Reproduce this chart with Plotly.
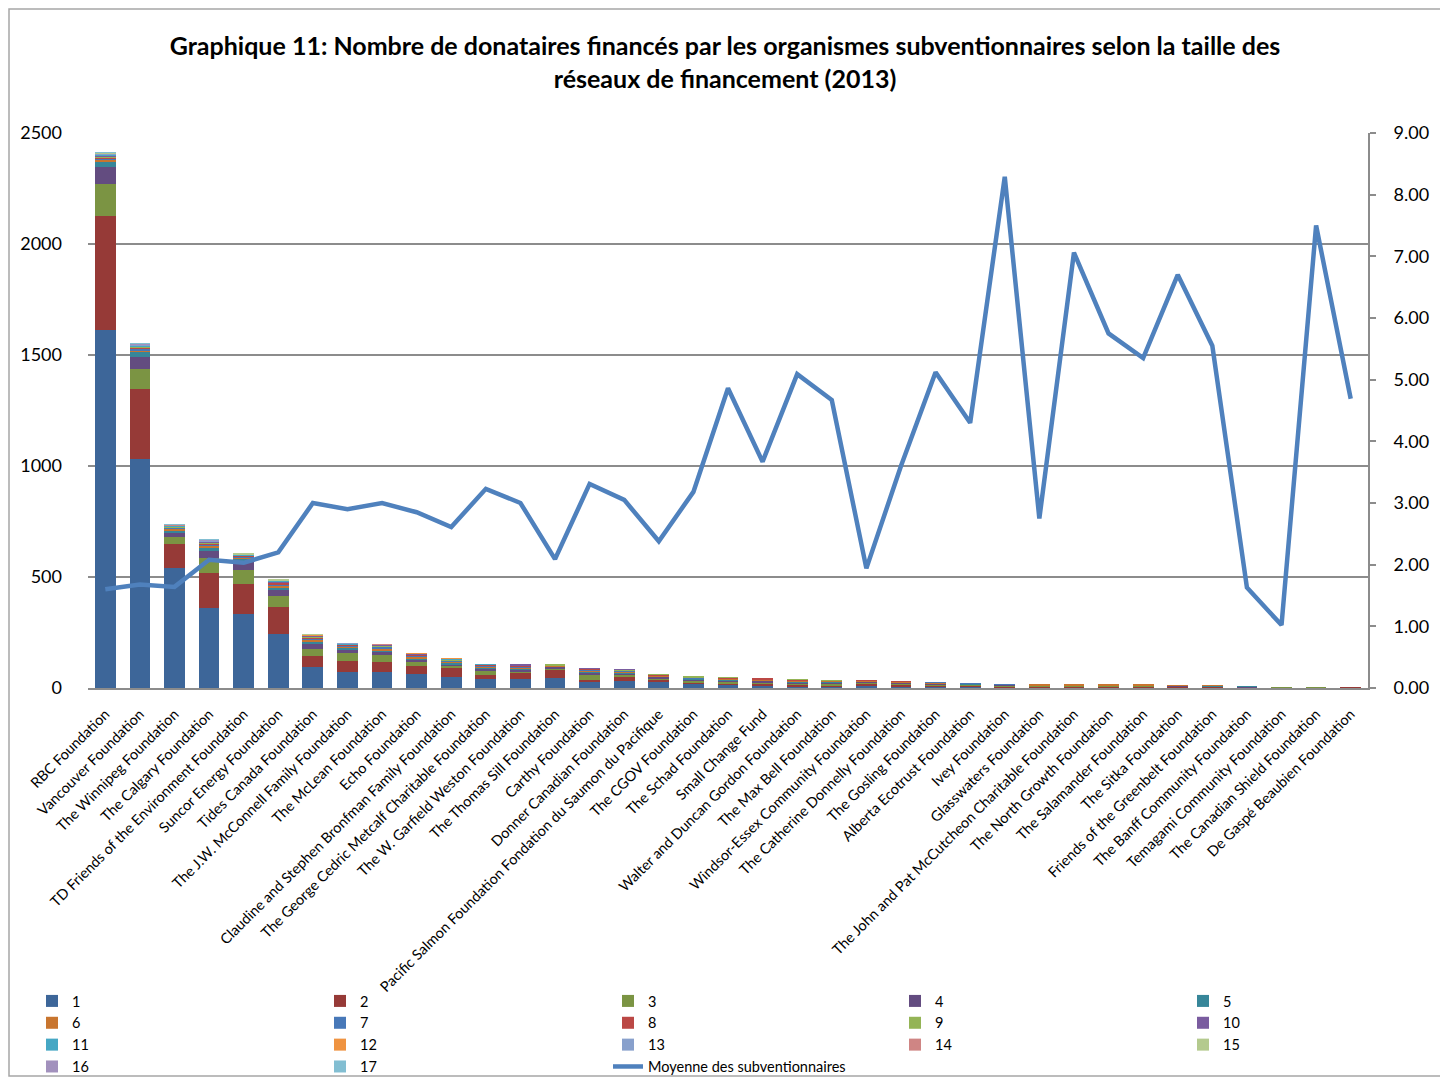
import plotly.graph_objects as go

categories = [
    "RBC Foundation", "Vancouver Foundation", "The Winnipeg Foundation", "The Calgary Foundation",
    "TD Friends of the Environment Foundation", "Suncor Energy Foundation", "Tides Canada Foundation",
    "The J.W. McConnell Family Foundation", "The McLean Foundation", "Echo Foundation",
    "Claudine and Stephen Bronfman Family Foundation", "The George Cedric Metcalf Charitable Foundation",
    "The W. Garfield Weston Foundation", "The Thomas Sill Foundation", "Carthy Foundation",
    "Donner Canadian Foundation", "Pacific Salmon Foundation Fondation du Saumon du Pacifique",
    "The CGOV Foundation", "The Schad Foundation", "Small Change Fund",
    "Walter and Duncan Gordon Foundation", "The Max Bell Foundation", "Windsor-Essex Community Foundation",
    "The Catherine Donnelly Foundation", "The Gosling Foundation", "Alberta Ecotrust Foundation",
    "Ivey Foundation", "Glasswaters Foundation", "The John and Pat McCutcheon Charitable Foundation",
    "The North Growth Foundation", "The Salamander Foundation", "The Sitka Foundation",
    "Friends of the Greenbelt Foundation", "The Banff Community Foundation",
    "Temagami Community Foundation", "The Canadian Shield Foundation", "De Gaspé Beaubien Foundation",
]

s1 = [1614, 1032, 540, 359, 335, 244, 93, 74, 71, 63, 48, 41, 42, 44, 26, 30, 29, 18, 12, 10, 8, 6, 10, 6, 6, 5, 4, 4, 3, 4, 3, 3, 3, 2, 1, 1, 1]
s2 = [510, 316, 108, 161, 133, 120, 51, 46, 45, 36, 42, 19, 24, 39, 12, 23, 10, 8, 10, 9, 7, 6, 9, 8, 5, 5, 4, 3, 3, 3, 3, 3, 2, 1, 1, 1, 1]
s3 = [148, 91, 33, 66, 65, 49, 32, 36, 34, 20, 10, 18, 9, 7, 22, 7, 6, 7, 8, 8, 6, 6, 5, 5, 4, 4, 3, 3, 3, 3, 3, 2, 2, 1, 1, 1, 0]
s4 = [74, 52, 19, 32, 36, 30, 21, 18, 11, 8, 8, 8, 8, 5, 10, 6, 5, 5, 5, 5, 6, 6, 4, 4, 3, 3, 3, 2, 2, 2, 2, 2, 1, 1, 0, 0, 0]
s5 = [24, 21, 11, 17, 13, 11, 12, 8, 10, 6, 6, 6, 6, 4, 6, 5, 3, 4, 4, 3, 4, 4, 3, 3, 3, 2, 2, 1, 2, 1, 2, 1, 1, 1, 0, 0, 0]
s6 = [10, 10, 6, 8, 6, 8, 8, 5, 8, 7, 5, 5, 5, 2, 5, 4, 3, 3, 3, 3, 3, 4, 2, 2, 2, 1, 1, 1, 1, 1, 1, 1, 1, 0, 0, 0, 0]
s7 = [6, 6, 4, 5, 4, 6, 6, 4, 6, 5, 4, 4, 4, 1, 4, 3, 2, 2, 2, 2, 2, 2, 1, 1, 1, 1, 1, 0, 0, 0, 0, 0, 0, 0, 0, 0, 0]
s8 = [5, 5, 3, 4, 3, 5, 5, 3, 4, 4, 3, 3, 3, 1, 2, 3, 1, 2, 2, 1, 1, 1, 1, 1, 0, 0, 0, 0, 0, 0, 0, 0, 0, 0, 0, 0, 0]
s9 = [4, 4, 3, 3, 2, 4, 4, 2, 3, 3, 2, 2, 2, 1, 2, 2, 1, 1, 1, 0, 1, 1, 0, 0, 0, 0, 0, 0, 0, 0, 0, 0, 0, 0, 0, 0, 0]
s10 = [4, 3, 2, 3, 2, 3, 3, 2, 2, 2, 2, 1, 1, 0, 1, 1, 0, 0, 0, 0, 0, 0, 0, 0, 0, 0, 0, 0, 0, 0, 0, 0, 0, 0, 0, 0, 0]
s11 = [3, 3, 2, 2, 1, 2, 3, 1, 1, 1, 1, 1, 0, 0, 0, 0, 0, 0, 0, 0, 0, 0, 0, 0, 0, 0, 0, 0, 0, 0, 0, 0, 0, 0, 0, 0, 0]
s12 = [3, 2, 2, 2, 1, 2, 2, 1, 1, 1, 1, 0, 0, 0, 0, 0, 0, 0, 0, 0, 0, 0, 0, 0, 0, 0, 0, 0, 0, 0, 0, 0, 0, 0, 0, 0, 0]
s13 = [2, 2, 1, 2, 1, 1, 1, 1, 1, 0, 0, 0, 0, 0, 0, 0, 0, 0, 0, 0, 0, 0, 0, 0, 0, 0, 0, 0, 0, 0, 0, 0, 0, 0, 0, 0, 0]
s14 = [2, 1, 1, 1, 1, 1, 1, 0, 1, 0, 0, 0, 0, 0, 0, 0, 0, 0, 0, 0, 0, 0, 0, 0, 0, 0, 0, 0, 0, 0, 0, 0, 0, 0, 0, 0, 0]
s15 = [2, 1, 1, 1, 1, 1, 1, 0, 0, 0, 0, 0, 0, 0, 0, 0, 0, 0, 0, 0, 0, 0, 0, 0, 0, 0, 0, 0, 0, 0, 0, 0, 0, 0, 0, 0, 0]
s16 = [1, 1, 1, 1, 0, 0, 0, 0, 0, 0, 0, 0, 0, 0, 0, 0, 0, 0, 0, 0, 0, 0, 0, 0, 0, 0, 0, 0, 0, 0, 0, 0, 0, 0, 0, 0, 0]
s17 = [1, 1, 1, 1, 0, 0, 0, 0, 0, 0, 0, 0, 0, 0, 0, 0, 0, 0, 0, 0, 0, 0, 0, 0, 0, 0, 0, 0, 0, 0, 0, 0, 0, 0, 0, 0, 0]

moyenne = [1.60, 1.68, 1.64, 2.08, 2.03, 2.20, 3.00, 2.90, 3.00, 2.85, 2.61, 3.23, 3.00, 2.09, 3.31, 3.05,
           2.38, 3.18, 4.86, 3.67, 5.09, 4.67, 1.94, 3.60, 5.12, 4.30, 8.29, 2.75, 7.06, 5.75, 5.35, 6.70,
           5.55, 1.63, 1.02, 7.50, 4.69]

series = [s1, s2, s3, s4, s5, s6, s7, s8, s9, s10, s11, s12, s13, s14, s15, s16, s17]
series_names = [str(i) for i in range(1, 18)]
line_name = "Moyenne des subventionnaires"

colors = ["#3D6699", "#963A37", "#7B9443", "#634C80", "#378699", "#C8752F", "#4778B8", "#BB4845",
          "#94B456", "#7A5C9F", "#45A7C4", "#EF9341", "#88A0CC", "#CF8584", "#B4CA8E", "#A291BD",
          "#82BED2"]
line_color = "#4F81BD"

FONT = "Lato"
# page offset of the plot div (default body margin)
O = 8
W, H = 1448 - O, 1079 - O
PLOT_L, PLOT_R, PLOT_T, PLOT_B = 88, 1368, 133, 688   # page pixels
L, R, T, B = PLOT_L - O, 1448 - PLOT_R, PLOT_T - O, 1079 - PLOT_B
PW, PH = PLOT_R - PLOT_L, PLOT_B - PLOT_T


def px_x(p):
    return (p - PLOT_L) / PW


def px_y(p):
    return (PLOT_B - p) / PH


legend_ids = ["legend", "legend2", "legend3", "legend4", "legend5"]

fig = go.Figure()
for i, (vals, name) in enumerate(zip(series, series_names)):
    fig.add_trace(go.Bar(
        x=categories, y=vals, name=name,
        marker=dict(color=colors[i], line=dict(width=0)),
        legend=legend_ids[i % 5],
    ))

fig.add_trace(go.Scatter(
    x=categories, y=moyenne, name=line_name, mode="lines",
    line=dict(color=line_color, width=4.5),
    yaxis="y2", legend="legend3",
))

text_x = [72, 360, 648, 935, 1223]
legend_layout = {}
for k, lid in enumerate(legend_ids):
    legend_layout[lid] = dict(
        x=px_x(text_x[k] - 40), xanchor="left",
        y=px_y(985), yanchor="top",
        orientation="v", bgcolor="rgba(0,0,0,0)",
        font=dict(family=FONT, size=14.5, color="#000000"),
        tracegroupgap=0, traceorder="normal",
    )

fig.update_layout(
    width=W, height=H,
    margin=dict(l=L, r=R, t=T, b=B, autoexpand=False),
    paper_bgcolor="white", plot_bgcolor="white",
    barmode="stack", bargap=0.4,
    font=dict(family=FONT, color="#000000"),
    title=dict(
        text="<b>Graphique 11: Nombre de donataires financés par les organismes subventionnaires selon la taille des<br>réseaux de financement (2013)</b>",
        x=px_x(725), xanchor="center", xref="paper",
        y=1 - (55 - O) / H, yanchor="middle", yref="container",
        font=dict(family=FONT, size=25, color="#000000"),
    ),
    xaxis=dict(
        type="category", range=[-0.5, len(categories) - 0.5],
        tickangle=-45, tickfont=dict(family=FONT, size=14.5, color="#000000"),
        showgrid=False, showline=True, linecolor="#8C8C8C", linewidth=2,
        ticks="", automargin=False, ticklabelstandoff=10,
    ),
    yaxis=dict(
        range=[0, 2500], dtick=500, tick0=0,
        showgrid=True, gridcolor="#8C8C8C", gridwidth=1.6,
        showline=False, zeroline=False, ticks="",
        tickfont=dict(family=FONT, size=18, color="#000000"),
        ticklabelstandoff=25, automargin=False,
    ),
    yaxis2=dict(
        range=[0, 9], dtick=1, tick0=0, tickformat=".2f",
        overlaying="y", side="right",
        showgrid=False, zeroline=False,
        showline=True, linecolor="#8C8C8C", linewidth=2,
        ticks="outside", ticklen=6, tickcolor="#8C8C8C", tickwidth=1.5,
        tickfont=dict(family=FONT, size=18, color="#000000"),
        ticklabelstandoff=14, automargin=False,
    ),
    shapes=[dict(
        type="rect", xref="paper", yref="paper", layer="below",
        x0=px_x(9), x1=px_x(1443), y0=px_y(1076), y1=px_y(9),
        line=dict(color="#A6A6A6", width=1.5), fillcolor="rgba(0,0,0,0)",
    )],
    **legend_layout,
)

fig.write_html("out.html")
